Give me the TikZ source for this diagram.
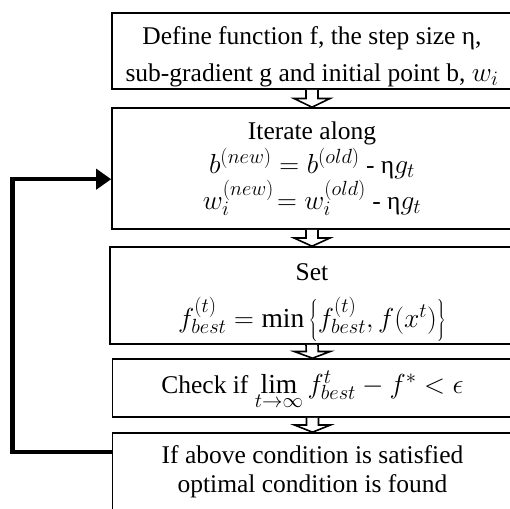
\RequirePackage{fix-cm}
\documentclass[tikz,border=0pt]{standalone}
\usepackage{fontspec}
\setmainfont{Liberation Serif}
\DeclareMathSizes{25.5}{27.5}{20.5}{16}
\usetikzlibrary{arrows.meta,calc}
\tikzstyle{stepbox}=[draw,line width=1.6pt,minimum width=400pt,inner sep=0pt,align=center,font=\fontsize{25.5}{29}\selectfont]
\tikzstyle{blockarrow}=[draw,line width=1.6pt,fill=white]
\tikzstyle{feedback}=[draw,line width=4.5pt,-{Triangle[length=15pt,width=20pt]}]

\begin{document}
\begin{tikzpicture}[x=1pt,y=-1pt]

    \useasboundingbox (0,0) rectangle (510,508);
    \clip (0,0) rectangle (510,508);

    % steps of the method
    \node[stepbox, minimum height=76pt] (define) at (312,51) {\rule{0pt}{30pt}Define function f, the step size η,\\[8pt] sub-gradient g and initial point b, $w_i$};
    \node[stepbox, minimum height=121pt] (iterate) at (312,168.5) {Iterate along\\[2pt] $b^{(new)}=b^{(old)}$ - η$g_t$\\[0pt] $w_i^{(new)}\!=w_i^{(old)}$ - η$g_t$};
    \node[stepbox, minimum height=97pt, minimum width=404pt] (set) at (312,295.5) {\rule{0pt}{31pt}Set\\[15pt] $f_{best}^{(t)}=\min\left\{f_{best}^{(t)},f(x^t)\right\}$};
    \node[stepbox, minimum height=58pt] (check) at (312.5,388) {\raisebox{-5pt}[0pt][0pt]{Check if $\lim\limits_{t\to\infty}f_{best}^{t}-f^{*}<\epsilon$}};
    \node[stepbox, minimum height=78pt] (result) at (312.5,472) {If above condition is satisfied\\ optimal condition is found};

    % hollow arrows between the steps
    \foreach \source/\dest in {define/iterate, iterate/set, set/check, check/result}
        \draw[blockarrow] ($(\source.south)+(-6,0)$) -- ($(\source.south)!.5!(\dest.north)+(-6,0)$) -- ($(\source.south)!.5!(\dest.north)+(-18,0)$) -- (\dest.north) -- ($(\source.south)!.5!(\dest.north)+(18,0)$) -- ($(\source.south)!.5!(\dest.north)+(6,0)$) -- ($(\source.south)+(6,0)$);

    % back to the iteration
    \draw[feedback] ([yshift=-20pt]result.north west) -- ++(-99,0) |- ([yshift=-72pt]iterate.north west);

\end{tikzpicture}
\end{document}
